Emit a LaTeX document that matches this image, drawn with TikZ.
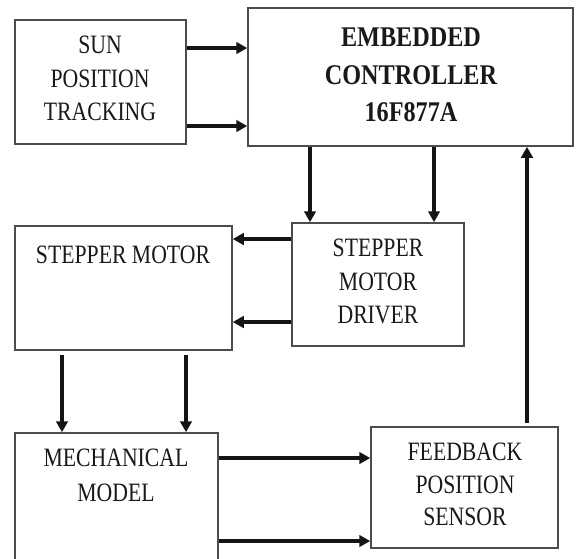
\documentclass[tikz,border=0pt]{standalone}
\usepackage{fontspec}
\setmainfont{Liberation Serif}[FakeStretch=0.82]
\newfontfamily\embfont{Liberation Serif}[FakeStretch=0.85]
\usetikzlibrary{arrows.meta}
\tikzset{
  box/.style={draw=black!70, line width=1.5pt, fill=white, inner sep=0pt},
  lbl/.style={text=black!90, align=center, inner sep=0pt, font=\fontsize{26.5}{33.5}\selectfont},
  arr/.style={draw=black!92, line width=3.4pt, -{Triangle[length=11pt,width=11.5pt]}},
}
\begin{document}
\begin{tikzpicture}[x=1pt,y=-1pt]
\useasboundingbox (0,0) rectangle (576,558);
\clip (0,0) rectangle (576,558);
% boxes
\node[box, minimum width=171pt, minimum height=124pt] (sun) at (100.5,82) {};
\node[box, minimum width=325pt, minimum height=138pt] (emb) at (410.5,77) {};
\node[box, minimum width=217pt, minimum height=124pt] (sm) at (123.5,288) {};
\node[box, minimum width=172pt, minimum height=123pt] (drv) at (378,284.5) {};
\node[box, minimum width=203pt, minimum height=132pt] (mech) at (116.5,499) {};
\node[box, minimum width=187pt, minimum height=121pt] (fb) at (464.5,487.5) {};
% labels
\node[lbl] (sunT) at (100,78.5) {SUN\\POSITION\\TRACKING};
\node[lbl, font=\fontsize{28.5}{37.5}\selectfont\embfont\bfseries] (embT) at (411,75) {EMBEDDED\\CONTROLLER\\16F877A};
\node[lbl] (smT) at (123,255) {STEPPER MOTOR};
\node[lbl] (drvT) at (378,281.5) {STEPPER\\MOTOR\\DRIVER};
\node[lbl, font=\fontsize{26.5}{35}\selectfont] (mechT) at (116,475.5) {MECHANICAL\\MODEL};
\node[lbl, font=\fontsize{26.5}{32.5}\selectfont] (fbT) at (465,484.5) {FEEDBACK\\POSITION\\SENSOR};
% free-end coordinates
\coordinate (smA) at (62,355);
\coordinate (smB) at (186,355);
\coordinate (fbUp) at (527,423);
% connectors
\draw[arr] (sun.east |- 0,48) -- (emb.west |- 0,48);
\draw[arr] (sun.east |- 0,126) -- (emb.west |- 0,126);
\draw[arr] (emb.south -| 310,0) -- (drv.north -| 310,0);
\draw[arr] (emb.south -| 434,0) -- (drv.north -| 434,0);
\draw[arr] (drv.west |- 0,239) -- (sm.east |- 0,239);
\draw[arr] (drv.west |- 0,322) -- (sm.east |- 0,322);
\draw[arr] (smA) -- (mech.north -| smA);
\draw[arr] (smB) -- (mech.north -| smB);
\draw[arr] (mech.east |- 0,458) -- (fb.west |- 0,458);
\draw[arr] (mech.east |- 0,541) -- (fb.west |- 0,541);
\draw[arr] (fbUp) -- (emb.south -| fbUp);
\end{tikzpicture}
\end{document}
